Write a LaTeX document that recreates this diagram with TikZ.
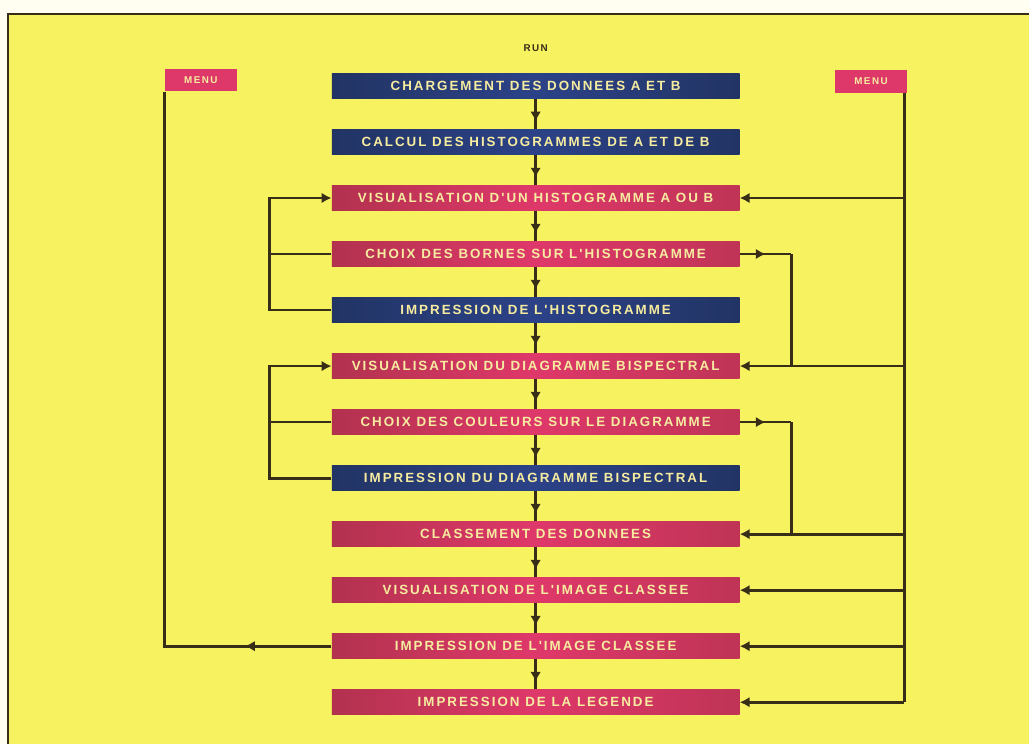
\documentclass[tikz,border=0pt]{standalone}
\usepackage{fontspec}
\setmainfont{Liberation Sans}
\newfontfamily\lettres[LetterSpace=15]{Liberation Sans}
\usetikzlibrary{positioning,arrows.meta,decorations.markings}

\definecolor{fond}{RGB}{247,242,96}
\definecolor{rose}{RGB}{222,56,106}
\definecolor{rosef}{RGB}{178,50,78}
\definecolor{bleu}{RGB}{44,66,136}
\definecolor{bleuf}{RGB}{34,52,100}
\definecolor{trait}{RGB}{56,46,24}
\definecolor{lettre}{RGB}{246,236,160}

\tikzstyle{etape}=[rectangle,minimum width=10.2cm,minimum height=0.625cm,inner sep=0pt,text=lettre,font=\lettres\bfseries\fontsize{9.5}{10}\selectfont]
\tikzstyle{rouge}=[etape,left color=rosef,right color=rosef!70!rose,middle color=rose]
\tikzstyle{bleue}=[etape,left color=bleuf,right color=bleuf,middle color=bleu]
\tikzstyle{menu}=[rectangle,fill=rose,inner sep=0pt,minimum width=1.8cm,minimum height=0.55cm,text=lettre,font=\lettres\bfseries\fontsize{7}{8}\selectfont]
\tikzstyle{lien}=[draw=trait,line width=2pt]
\tikzstyle{fleche}=[lien,-{Latex[length=7pt,width=7.5pt]}]
\tikzset{milieu/.style={lien,postaction={decorate},
  decoration={markings,mark=at position #1 with {\arrow{Latex[length=7pt,width=7.5pt]}}}},
  milieu/.default=0.75}

\begin{document}
\begin{tikzpicture}[node distance=0.7625cm]

% fond et cadre
\fill[white!94!yellow] (0,0) rectangle (25.75,-18.625);
\fill[fond] (0.2,-0.35) rectangle (25.75,-18.625);
\draw[trait,line width=1pt] (0.2,-18.625) -- (0.2,-0.35) -- (25.75,-0.35);
\useasboundingbox (0,0) rectangle (25.75,-18.625);

\node[text=trait,font=\lettres\bfseries\fontsize{7}{8}\selectfont] (run) at (13.4,-1.2) {RUN};

\node[bleue] (charge) at (13.4,-2.15) {CHARGEMENT DES DONNEES A ET B};
\node[bleue] (calcul) [below =of charge] {CALCUL DES HISTOGRAMMES DE A ET DE B};
\node[rouge] (vishisto) [below =of calcul] {VISUALISATION D'UN HISTOGRAMME A OU B};
\node[rouge] (bornes) [below =of vishisto] {CHOIX DES BORNES SUR L'HISTOGRAMME};
\node[bleue] (imprhisto) [below =of bornes] {IMPRESSION DE L'HISTOGRAMME};
\node[rouge] (visdiag) [below =of imprhisto] {VISUALISATION DU DIAGRAMME BISPECTRAL};
\node[rouge] (couleurs) [below =of visdiag] {CHOIX DES COULEURS SUR LE DIAGRAMME};
\node[bleue] (imprdiag) [below =of couleurs] {IMPRESSION DU DIAGRAMME BISPECTRAL};
\node[rouge] (classe) [below =of imprdiag] {CLASSEMENT DES DONNEES};
\node[rouge] (visimage) [below =of classe] {VISUALISATION DE L'IMAGE CLASSEE};
\node[rouge] (imprimage) [below =of visimage] {IMPRESSION DE L'IMAGE CLASSEE};
\node[rouge] (legende) [below =of imprimage] {IMPRESSION DE LA LEGENDE};

\node[menu] (menug) at (5.025,-2.01) {MENU};
\node[menu,minimum width=1.825cm,minimum height=0.575cm] (menud) at (21.79,-2.04) {MENU};

% abscisses des verticales
\coordinate (gA) at (6.75,0);
\coordinate (dB) at (19.8,0);
\coordinate (dM) at (22.62,0);

% enchainement principal
\draw[milieu] (charge.south) to (calcul.north);
\draw[milieu] (calcul.south) to (vishisto.north);
\draw[milieu] (vishisto.south) to (bornes.north);
\draw[milieu] (bornes.south) to (imprhisto.north);
\draw[milieu] (imprhisto.south) to (visdiag.north);
\draw[milieu] (visdiag.south) to (couleurs.north);
\draw[milieu] (couleurs.south) to (imprdiag.north);
\draw[milieu] (imprdiag.south) to (classe.north);
\draw[milieu] (classe.south) to (visimage.north);
\draw[milieu] (visimage.south) to (imprimage.north);
\draw[milieu] (imprimage.south) to (legende.north);

% retours a gauche
\draw[fleche] (imprhisto.west) -- (imprhisto.west -| gA) |- (vishisto.west);
\draw[lien] (bornes.west) -- (bornes.west -| gA);
\draw[fleche] (imprdiag.west) -- (imprdiag.west -| gA) |- (visdiag.west);
\draw[lien] (couleurs.west) -- (couleurs.west -| gA);

% menu de gauche
\draw[milieu=0.12] (imprimage.west) -- (imprimage.west -| menug.south west) -- (menug.south west);

% passages a droite
\draw[milieu=0.5] (bornes.east) -- (bornes.east -| dB);
\draw[lien] (bornes.east -| dB) -- (visdiag.east -| dB);
\draw[milieu=0.5] (couleurs.east) -- (couleurs.east -| dB);
\draw[lien] (couleurs.east -| dB) -- (classe.east -| dB);

% menu de droite
\draw[lien] (menud.south -| dM) -- (legende.east -| dM);
\draw[fleche] (vishisto.east -| dM) -- (vishisto.east);
\draw[fleche] (visdiag.east -| dM) -- (visdiag.east);
\draw[fleche] (classe.east -| dM) -- (classe.east);
\draw[fleche] (visimage.east -| dM) -- (visimage.east);
\draw[fleche] (imprimage.east -| dM) -- (imprimage.east);
\draw[fleche] (legende.east -| dM) -- (legende.east);

\end{tikzpicture}
\end{document}
